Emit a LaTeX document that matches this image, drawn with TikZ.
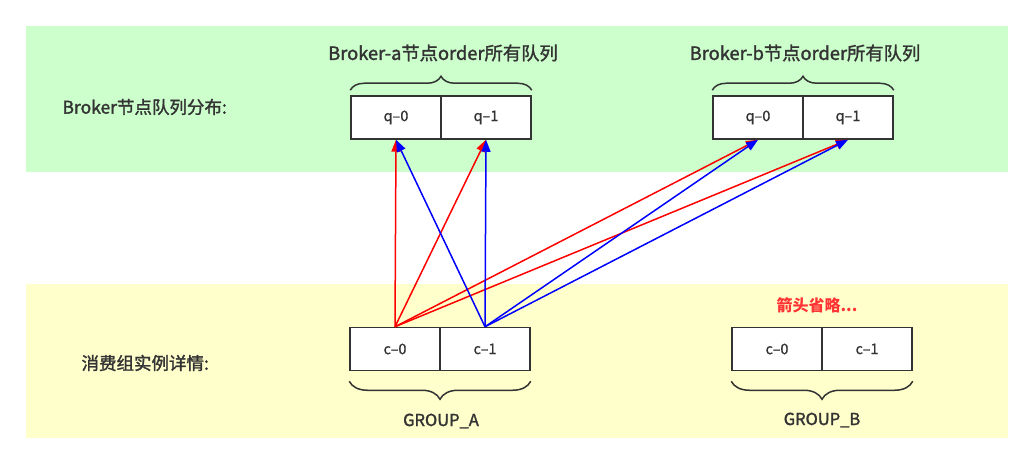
\documentclass[tikz,border=0pt]{standalone}
\usepackage{fontspec}
\setmainfont{Noto Sans CJK SC}[FakeBold=0.7]
\newfontfamily\medfont{Noto Sans CJK SC}[FakeBold=1.6]
\newfontfamily\plainfont{Noto Sans CJK SC}
\usetikzlibrary{arrows.meta, decorations.pathreplacing}
\definecolor{bandgreen}{HTML}{CCFFCC}
\definecolor{bandyellow}{HTML}{FFFFCC}
\definecolor{ink}{HTML}{333333}
\definecolor{notered}{HTML}{FF3333}
\tikzset{
  cell/.style={draw=ink, line width=1.5pt, fill=white, minimum width=90pt,
    minimum height=43pt, inner sep=0pt, text=ink, font=\fontsize{14.5}{16}\selectfont},
  title/.style={text=ink, font=\medfont\fontsize{18.3}{21}\selectfont},
  lbltitle/.style={text=ink, font=\medfont\fontsize{17.5}{20}\selectfont},
  grptitle/.style={text=ink, font=\medfont\fontsize{16.5}{18}\selectfont},
  grpbrace/.style={draw=ink, line width=1.5pt, decorate,
    decoration={brace, amplitude=#1}},
  redarr/.style={red, line width=1.5pt, -{Triangle[length=12pt, width=9pt]}},
  bluearr/.style={blue, line width=1.5pt, -{Triangle[length=12pt, width=9pt]}}
}

\begin{document}
\begin{tikzpicture}[x=1pt, y=-1pt]
  \fill[white] (0,0) rectangle (1034,465);
  \useasboundingbox (0,0) rectangle (1034,465);

  % Bands
  \fill[bandgreen] (26,26) rectangle (1008,172);
  \fill[bandyellow] (26,284) rectangle (1008,438);

  \node[lbltitle, anchor=west] (brokerlbl) at (59,107) {Broker节点队列分布:};
  \node[lbltitle, anchor=west] (grouplbl) at (78,363) {消费组实例详情:};

  % Broker queues
  \node[cell] (qa0) at (396,117.5) {q–0};
  \node[cell] (qa1) at (486,117.5) {q–1};
  \node[cell] (qb0) at (758,117.5) {q–0};
  \node[cell] (qb1) at (848,117.5) {q–1};

  \draw[grpbrace=14pt] ([yshift=5pt]qa0.north west) -- ([yshift=5pt]qa1.north east);
  \draw[grpbrace=14pt] ([yshift=5pt]qb0.north west) -- ([yshift=5pt]qb1.north east);
  \node[title] (titlea) at (443,53) {Broker-a节点order所有队列};
  \node[title] (titleb) at (805,53) {Broker-b节点order所有队列};

  % Consumer groups
  \node[cell] (ca0) at (395,349) {c–0};
  \node[cell] (ca1) at (485,349) {c–1};
  \node[cell] (cb0) at (777,349) {c–0};
  \node[cell] (cb1) at (867,349) {c–1};

  \draw[grpbrace=18pt] ([yshift=-10pt]ca1.south east) -- ([yshift=-10pt]ca0.south west);
  \draw[grpbrace=18pt] ([yshift=-10pt]cb1.south east) -- ([yshift=-10pt]cb0.south west);
  \node[grptitle] (groupa) at (441,421) {GROUP\_A};
  \node[grptitle] (groupb) at (822,420) {GROUP\_B};
  \node[text=notered, font=\plainfont\fontsize{16}{18}\selectfont\bfseries] (omit) at (817,305) {箭头省略...};

  % Assignments
  \foreach \q in {qa0, qa1, qb0, qb1} {
    \draw[redarr] (ca0.north) -- (\q.south);
  }
  \foreach \q in {qa0, qa1, qb0, qb1} {
    \draw[bluearr] (ca1.north) -- (\q.south);
  }
\end{tikzpicture}
\end{document}
